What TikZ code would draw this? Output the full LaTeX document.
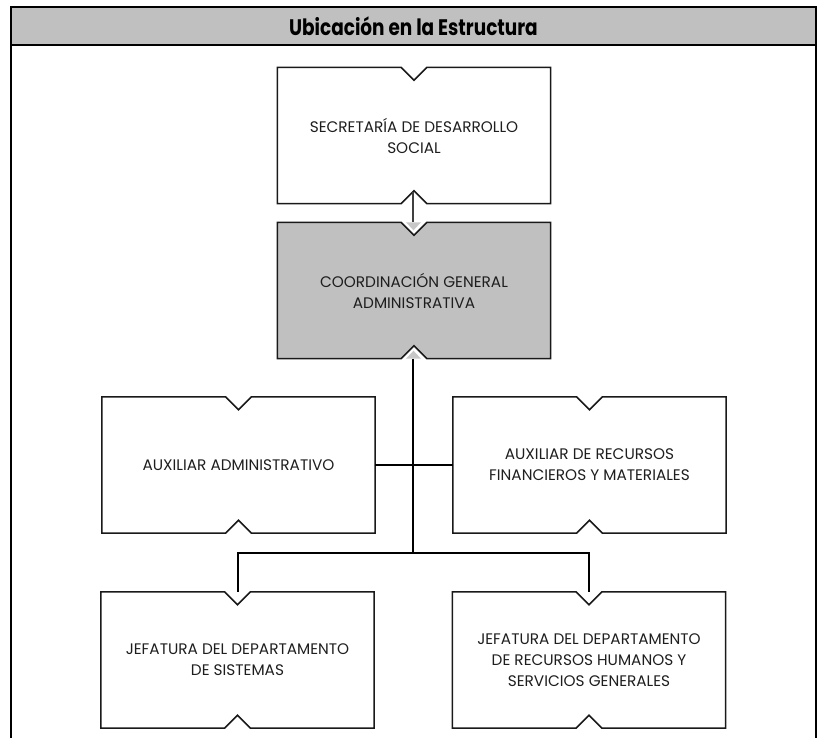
\documentclass[tikz,border=0pt]{standalone}
\usepackage{fontspec}
\setmainfont{Poppins}
\newfontfamily\hdrfont{Poppins}[FakeStretch=0.82]
\usetikzlibrary{calc,backgrounds}
\definecolor{boxgray}{HTML}{C0C0C0}
\definecolor{tipgray}{HTML}{C8C8C8}
\definecolor{txtgray}{HTML}{1E1E1E}
\tikzset{
  unit/.style={inner sep=0pt, minimum width=273pt, minimum height=136pt, align=center,
    text=txtgray, font=\fontsize{15.3}{21}\selectfont},
  boxline/.style={draw=black!90, line width=1.5pt, line join=miter},
  link/.style={draw=black, line width=2pt},
  sublink/.style={draw=black!75, line width=2pt},
  frameline/.style={draw=black, line width=2.5pt},
}
\newcommand\notchoutline[2][]{%
  \path[boxline,#1] (#2.north west) -- ($(#2.north)+(-13,0)$) -- ($(#2.north)+(0,13)$)
    -- ($(#2.north)+(13,0)$) -- (#2.north east) -- (#2.south east)
    -- ($(#2.south)+(13,0)$) -- ($(#2.south)+(0,-13)$) -- ($(#2.south)+(-13,0)$)
    -- (#2.south west) -- cycle;}
\begin{document}
\begin{tikzpicture}[x=1pt,y=-1pt]
\useasboundingbox (0,0) rectangle (820,738);
% frame and header
\path[fill=boxgray] (11,7) rectangle (816,45);
\draw[frameline] (11,745) -- (11,7) -- (816,7) -- (816,745);
\draw[frameline] (11,45) -- (816,45);
\node[font=\hdrfont\bfseries\fontsize{22.5}{24}\selectfont, text=black] (hdr) at (413.5,26.5) {Ubicación en la Estructura};
% boxes
\node[unit] (sec) at (414,135.5) {SECRETARÍA DE DESARROLLO\\SOCIAL};
\node[unit] (coord) at (414,290.5) {COORDINACIÓN GENERAL\\ADMINISTRATIVA};
\node[unit] (auxadm) at (238.5,465) {AUXILIAR ADMINISTRATIVO};
\node[unit] (auxrec) at (589.5,465) {AUXILIAR DE RECURSOS\\FINANCIEROS Y MATERIALES};
\node[unit] (jefsis) at (237.5,660) {JEFATURA DEL DEPARTAMENTO\\DE SISTEMAS};
\node[unit] (jefrh) at (589,660) {JEFATURA DEL DEPARTAMENTO\\DE RECURSOS HUMANOS Y\\SERVICIOS GENERALES};
\begin{scope}[on background layer]
  \notchoutline{sec}
  \notchoutline[fill=boxgray]{coord}
  \notchoutline{auxadm}
  \notchoutline{auxrec}
  \notchoutline{jefsis}
  \notchoutline{jefrh}
\end{scope}
% connectors
\coordinate (bus) at (413,553);
\draw[sublink] ($(sec.south)+(-1,-12)$) -- ($(coord.north)+(-1,0)$);
\fill[tipgray] ($(coord.north)+(-8,0)$) -- ($(coord.north)+(7,0)$) -- ($(coord.north)+(-0.5,8)$) -- cycle;
\draw[link] (coord.south) ++(-1,0) -- ($(bus)$);
\fill[tipgray] ($(coord.south)+(-8,0)$) -- ($(coord.south)+(7,0)$) -- ($(coord.south)+(-0.5,-8)$) -- cycle;
\draw[link] (auxadm.east) -- (auxrec.west);
\draw[link] (jefsis.north) |- (bus) -| (jefrh.north);
\end{tikzpicture}
\end{document}
